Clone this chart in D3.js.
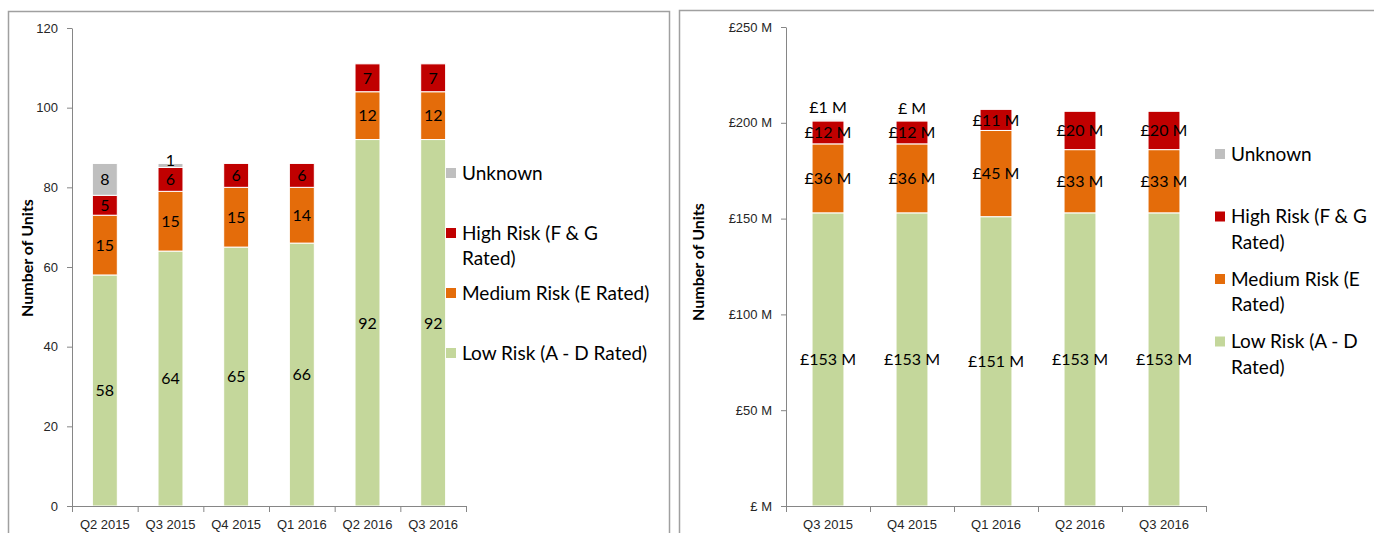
<!DOCTYPE html>
<html>
<head>
<meta charset="utf-8">
<script src="https://cdn.jsdelivr.net/npm/d3@7"></script>
<style>
  body { margin: 0; background: #fff; }
  svg { display: block; font-family: Lato, "Open Sans", sans-serif; }
</style>
</head>
<body>
<div id="chart"></div>
<script>
// ---- data: left chart (number of units) ----
const unitQuarters = ["Q2 2015", "Q3 2015", "Q4 2015", "Q1 2016", "Q2 2016", "Q3 2016"];
const unitsLow = [58, 64, 65, 66, 92, 92];
const unitsMedium = [15, 15, 15, 14, 12, 12];
const unitsHigh = [5, 6, 6, 6, 7, 7];
const unitsUnknown = [8, 1, 0, 0, 0, 0];
const unitTicks = [0, 20, 40, 60, 80, 100, 120];

// ---- data: right chart (value, £ M) ----
const valueQuarters = ["Q3 2015", "Q4 2015", "Q1 2016", "Q2 2016", "Q3 2016"];
const valueLow = [153, 153, 151, 153, 153];
const valueMedium = [36, 36, 45, 33, 33];
const valueHigh = [12, 12, 11, 20, 20];
const valueUnknown = [0.6, 0.3, 0, 0, 0];
const valueTicks = [0, 50, 100, 150, 200, 250];

const seriesKeys = ["low", "medium", "high", "unknown"];
const seriesNames = {
  low: "Low Risk (A - D Rated)",
  medium: "Medium Risk (E Rated)",
  high: "High Risk (F & G Rated)",
  unknown: "Unknown"
};
const seriesColors = { low: "#c4d79b", medium: "#e46c0a", high: "#c00000", unknown: "#bfbfbf" };

const svg = d3.select("#chart").append("svg")
  .attr("width", 1374)
  .attr("height", 533);

// panel frames
svg.append("rect").attr("x", 8.5).attr("y", 11.5).attr("width", 661).attr("height", 600)
  .attr("fill", "none").attr("stroke", "#a0a0a0").attr("stroke-width", 1.5);
svg.append("rect").attr("x", 679.5).attr("y", 10.5).attr("width", 800).attr("height", 600)
  .attr("fill", "none").attr("stroke", "#a0a0a0").attr("stroke-width", 1.5);

function pound(v) {
  const r = Math.round(v);
  return r === 0 ? "£ M" : `£${r} M`;
}

function stackedChart(opt) {
  const rows = opt.categories.map((c, i) => ({
    cat: c, low: opt.low[i], medium: opt.medium[i], high: opt.high[i], unknown: opt.unknown[i]
  }));

  const g = svg.append("g");

  const x = d3.scaleBand()
    .domain(opt.categories)
    .range(opt.xRange)
    .paddingInner(0.62)
    .paddingOuter(0.31);

  const y = d3.scaleLinear()
    .domain([0, d3.max(opt.ticks)])
    .range(opt.yRange);

  const series = d3.stack().keys(seriesKeys)(rows);

  // bars
  g.append("g")
    .selectAll("g")
    .data(series)
    .join("g")
    .attr("fill", d => seriesColors[d.key])
    .selectAll("rect")
    .data(d => d)
    .join("rect")
    .attr("x", d => x(d.data.cat))
    .attr("y", d => y(d[1]))
    .attr("width", x.bandwidth())
    .attr("height", d => y(d[0]) - y(d[1]))
    .attr("stroke", "#fff")
    .attr("stroke-width", 1);

  // data labels
  series.forEach(s => {
    g.append("g")
      .selectAll("text")
      .data(s.filter(d => d[1] - d[0] > 0))
      .join("text")
      .attr("x", d => x(d.data.cat) + x.bandwidth() / 2)
      .attr("y", d => {
        const h = y(d[0]) - y(d[1]);
        if (h < 8) return y(d[1]) - opt.smallLift;
        return (y(d[0]) + y(d[1])) / 2;
      })
      .attr("dy", "0.36em")
      .attr("text-anchor", "middle")
      .style("font-size", "16px")
      .attr("fill", "#000")
      .text(d => opt.labelFormat(d[1] - d[0]));
  });

  // y axis
  const yAxis = g.append("g")
    .attr("transform", `translate(${opt.xRange[0]},0)`)
    .call(d3.axisLeft(y).tickValues(opt.ticks).tickFormat(opt.tickFormat)
      .tickSize(5).tickSizeOuter(0).tickPadding(9));
  yAxis.selectAll("text").style("font-size", "13px").attr("fill", "#262626");

  // x axis: labels
  const xAxis = g.append("g")
    .attr("transform", `translate(0,${opt.yRange[0]})`)
    .call(d3.axisBottom(x).tickSize(0).tickPadding(14));
  xAxis.selectAll("text").style("font-size", "13px").attr("fill", "#262626");
  xAxis.select(".domain").remove();

  // x axis: boundary ticks
  const xEdge = d3.scaleLinear().domain([0, opt.categories.length]).range(opt.xRange);
  g.append("g")
    .attr("transform", `translate(0,${opt.yRange[0]})`)
    .call(d3.axisBottom(xEdge).tickValues(d3.range(opt.categories.length + 1))
      .tickFormat("").tickSize(6).tickSizeOuter(0));

  g.selectAll(".domain, .tick line").attr("stroke", "#868686");

  // axis title
  g.append("text")
    .attr("transform", `translate(${opt.titleX},${opt.titleY}) rotate(-90)`)
    .attr("text-anchor", "middle")
    .style("font-size", "16px")
    .style("font-weight", "bold")
    .attr("fill", "#000")
    .text("Number of Units");

  // legend
  const legendOrder = ["unknown", "high", "medium", "low"];
  legendOrder.forEach((k, i) => {
    const ly = opt.legend.y + i * opt.legend.step;
    g.append("rect")
      .attr("x", opt.legend.x)
      .attr("y", ly - 5)
      .attr("width", 10)
      .attr("height", 10)
      .attr("fill", seriesColors[k]);
    const t = g.append("text")
      .attr("x", opt.legend.x + 16)
      .attr("y", ly)
      .attr("dy", "0.36em")
      .style("font-size", "19px")
      .attr("fill", "#000");
    // simple word wrap
    const words = seriesNames[k].split(" ");
    let line = [];
    let tspan = t.append("tspan").attr("x", opt.legend.x + 16);
    words.forEach(w => {
      line.push(w);
      tspan.text(line.join(" "));
      if (tspan.node().getComputedTextLength() > opt.legend.maxWidth && line.length > 1) {
        line.pop();
        tspan.text(line.join(" "));
        line = [w];
        tspan = t.append("tspan").attr("x", opt.legend.x + 16).attr("dy", "1.35em").text(w);
      }
    });
  });
}

stackedChart({
  categories: unitQuarters,
  low: unitsLow, medium: unitsMedium, high: unitsHigh, unknown: unitsUnknown,
  ticks: unitTicks,
  tickFormat: d => d,
  labelFormat: v => v,
  xRange: [72, 466],
  yRange: [506, 28],
  smallLift: 3,
  titleX: 33, titleY: 258,
  legend: { x: 446, y: 173, step: 60, maxWidth: 191 }
});

stackedChart({
  categories: valueQuarters,
  low: valueLow, medium: valueMedium, high: valueHigh, unknown: valueUnknown,
  ticks: valueTicks,
  tickFormat: pound,
  labelFormat: pound,
  xRange: [786, 1206],
  yRange: [506, 27],
  smallLift: 12,
  titleX: 704, titleY: 262,
  legend: { x: 1215, y: 154, step: 62.5, maxWidth: 140 }
});
</script>
</body>
</html>
